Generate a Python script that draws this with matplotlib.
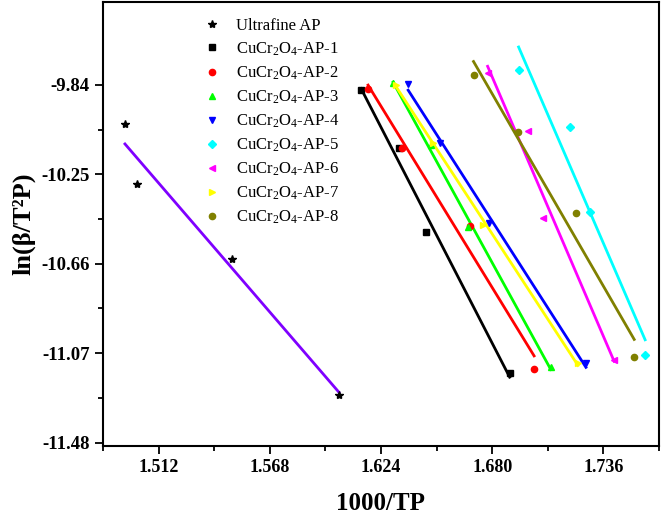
import numpy as np
import matplotlib
matplotlib.use('Agg')
import matplotlib.pyplot as plt

plt.rcParams['font.family'] = ['Liberation Serif', 'DejaVu Serif']
plt.rcParams['mathtext.fontset'] = 'custom'
plt.rcParams['mathtext.rm'] = 'Liberation Serif'
plt.rcParams['mathtext.default'] = 'regular'

# 1000/TP and ln(beta/T^2P) for each sample
x_ultra = [1.4951, 1.5012, 1.5492, 1.6028]
y_ultra = [-10.019, -10.295, -10.639, -11.264]
x_ap1 = [1.6140, 1.6332, 1.6468, 1.6888]
y_ap1 = [-9.863, -10.129, -10.515, -11.163]
x_ap2 = [1.6175, 1.6347, 1.6686, 1.7011]
y_ap2 = [-9.858, -10.129, -10.488, -11.144]
x_ap3 = [1.6301, 1.6493, 1.6680, 1.7095]
y_ap3 = [-9.831, -10.116, -10.492, -11.135]
x_ap4 = [1.6377, 1.6539, 1.6782, 1.7272]
y_ap4 = [-9.835, -10.106, -10.474, -11.117]
x_ap5 = [1.6933, 1.7191, 1.7292, 1.7570]
y_ap5 = [-9.771, -10.033, -10.423, -11.080]
x_ap6 = [1.6777, 1.6979, 1.7055, 1.7414]
y_ap6 = [-9.785, -10.051, -10.451, -11.103]
x_ap7 = [1.6316, 1.6504, 1.6756, 1.7232]
y_ap7 = [-9.840, -10.106, -10.483, -11.117]
x_ap8 = [1.6706, 1.6928, 1.7222, 1.7515]
y_ap8 = [-9.794, -10.056, -10.428, -11.089]

series = [
    ('Ultrafine AP', x_ultra, y_ultra, '*', 'black', '#7F00FF'),
    ('CuCr$_2$O$_4$-AP-1', x_ap1, y_ap1, 's', 'black', 'black'),
    ('CuCr$_2$O$_4$-AP-2', x_ap2, y_ap2, 'o', '#FF0000', '#FF0000'),
    ('CuCr$_2$O$_4$-AP-3', x_ap3, y_ap3, '^', '#00FF00', '#00FF00'),
    ('CuCr$_2$O$_4$-AP-4', x_ap4, y_ap4, 'v', '#0000FF', '#0000FF'),
    ('CuCr$_2$O$_4$-AP-5', x_ap5, y_ap5, 'D', '#00FFFF', '#00FFFF'),
    ('CuCr$_2$O$_4$-AP-6', x_ap6, y_ap6, '<', '#FF00FF', '#FF00FF'),
    ('CuCr$_2$O$_4$-AP-7', x_ap7, y_ap7, '>', '#FFFF00', '#FFFF00'),
    ('CuCr$_2$O$_4$-AP-8', x_ap8, y_ap8, 'o', '#808000', '#808000'),
]

fig = plt.figure(figsize=(6.64, 5.26), dpi=100)
ax = fig.add_axes([0.155, 0.152, 0.8375, 0.844])

for name, xs, ys, mk, mc, lc in series:
    xs = np.array(xs)
    ys = np.array(ys)
    k, b = np.polyfit(xs, ys, 1)
    xl = np.array([xs.min(), xs.max()])
    ax.plot(xl, k * xl + b, color=lc, lw=2.0, zorder=2)
    ms = 6 if mk == '*' else 4.5
    if mk == 'D':
        ms = 4
    ax.plot(xs, ys, linestyle='none', marker=mk, color=mc, ms=ms,
            label=name, zorder=3)

ax.set_xlim(1.484, 1.764)
ax.set_ylim(-11.496, -9.46)
ax.set_xticks([1.512, 1.568, 1.624, 1.680, 1.736])
ax.set_xticklabels(['1.512', '1.568', '1.624', '1.680', '1.736'])
ax.set_xticks([1.484, 1.540, 1.596, 1.652, 1.708, 1.764], minor=True)
ax.set_yticks([-9.84, -10.25, -10.66, -11.07, -11.48])
ax.set_yticklabels(['-9.84', '-10.25', '-10.66', '-11.07', '-11.48'])
ax.set_yticks([-10.045, -10.455, -10.865, -11.275], minor=True)

ax.tick_params(which='major', direction='out', length=6, width=1.3,
               top=False, right=False)
ax.tick_params(axis='x', which='major', labelsize=13)
ax.tick_params(axis='y', which='major', labelsize=13.5)
ax.tick_params(which='minor', direction='out', length=3.5, width=1.3,
               top=False, right=False)
for lab in ax.get_xticklabels() + ax.get_yticklabels():
    lab.set_fontweight('bold')
for sp in ax.spines.values():
    sp.set_linewidth(1.5)

ax.set_xlabel('1000/TP', fontsize=18, fontweight='bold', labelpad=11)
ax.set_ylabel('ln(β/T²P)', fontsize=19, fontweight='bold', labelpad=4)

ax.legend(loc='upper left', bbox_to_anchor=(0.167, 0.98), frameon=False,
          fontsize=12, handletextpad=0.84, labelspacing=0.4,
          handlelength=1.2, borderaxespad=0)

fig.savefig('out.png', dpi=100)
